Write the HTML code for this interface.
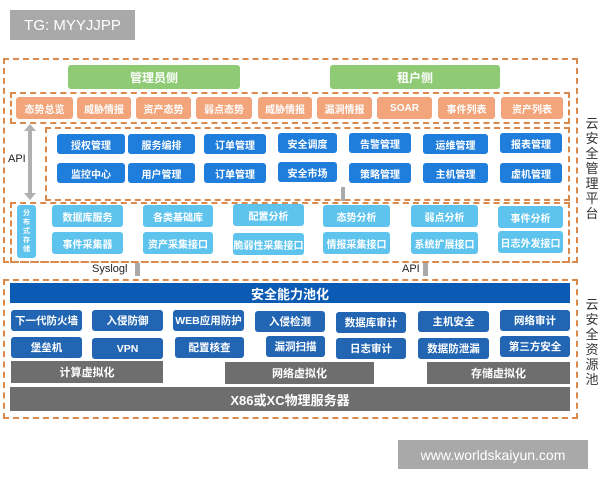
<!DOCTYPE html>
<html><head><meta charset="utf-8"><style>
*{margin:0;padding:0;box-sizing:border-box}
body{width:600px;height:480px;background:#fff;position:relative;overflow:hidden;font-family:"Liberation Sans","Noto Sans CJK SC",sans-serif}
div{position:absolute}
.d{border:2px dashed #dc8a4c}
.b{display:flex;align-items:center;justify-content:center;color:#fff;font-size:10px;font-weight:bold;border-radius:3px;white-space:nowrap}
.o{background:#f2a47a;top:97px;height:22px}
.m{background:#1f7ddb;height:20px}
.l{background:#5ec4ee;height:22px}
.k{background:#2266b3;height:21px;font-size:10.5px}
.g{background:#6e6e6e;border-radius:0;font-size:11px}
.v{font-size:13px;color:#333;width:14px;line-height:15px;text-align:center}
</style></head><body>
<div class="b" style="left:10px;top:10px;width:125px;height:30px;background:#a9a9a9;font-weight:normal;font-size:15px;border-radius:0">TG: MYYJJPP</div>
<div class="d" style="left:3px;top:58px;width:575px;height:205px"></div>
<div class="b" style="left:68px;top:65px;width:172px;height:24px;background:#8ecb74;font-size:12px">管理员侧</div>
<div class="b" style="left:330px;top:65px;width:170px;height:24px;background:#8ecb74;font-size:12px">租户侧</div>
<div class="d" style="left:10px;top:92px;width:560px;height:32px"></div>
<div class="b o" style="left:16px;width:57px">态势总览</div>
<div class="b o" style="left:77px;width:54px">威胁情报</div>
<div class="b o" style="left:136px;width:55px">资产态势</div>
<div class="b o" style="left:196px;width:56px">弱点态势</div>
<div class="b o" style="left:258px;width:54px">威胁情报</div>
<div class="b o" style="left:317px;width:55px">漏洞情报</div>
<div class="b o" style="left:377px;width:55px">SOAR</div>
<div class="b o" style="left:438px;width:57px">事件列表</div>
<div class="b o" style="left:501px;width:62px">资产列表</div>
<div class="d" style="left:45px;top:127px;width:525px;height:74px"></div>
<div class="b m" style="left:57px;top:134px;width:68px">授权管理</div>
<div class="b m" style="left:128px;top:134px;width:67px">服务编排</div>
<div class="b m" style="left:204px;top:134px;width:62px">订单管理</div>
<div class="b m" style="left:278px;top:133px;width:59px">安全调度</div>
<div class="b m" style="left:349px;top:133px;width:62px">告警管理</div>
<div class="b m" style="left:423px;top:134px;width:65px">运维管理</div>
<div class="b m" style="left:500px;top:133px;width:62px">报表管理</div>
<div class="b m" style="left:57px;top:163px;width:68px">监控中心</div>
<div class="b m" style="left:128px;top:163px;width:67px">用户管理</div>
<div class="b m" style="left:204px;top:163px;width:62px">订单管理</div>
<div class="b m" style="left:278px;top:162px;width:59px">安全市场</div>
<div class="b m" style="left:349px;top:163px;width:62px">策略管理</div>
<div class="b m" style="left:423px;top:163px;width:65px">主机管理</div>
<div class="b m" style="left:500px;top:163px;width:62px">虚机管理</div>
<div style="left:28px;top:130px;width:4px;height:64px;background:#b0b0b0"></div>
<div style="left:24px;top:124px;width:0;height:0;border:6px solid transparent;border-bottom:7px solid #b0b0b0;border-top:0"></div>
<div style="left:24px;top:193px;width:0;height:0;border:6px solid transparent;border-top:7px solid #b0b0b0;border-bottom:0"></div>
<div style="left:8px;top:153px;font-size:11px;color:#222">API</div>
<div style="left:341px;top:187px;width:4px;height:14px;background:#aaa"></div>
<div class="d" style="left:10px;top:202px;width:560px;height:61px"></div>
<div class="b" style="left:17px;top:205px;width:19px;height:53px;background:#5ec4ee;font-size:7px;line-height:9px;white-space:normal;text-align:center;padding:0 5px">分布式存储</div>
<div class="b l" style="left:52px;top:205px;width:71px">数据库服务</div>
<div class="b l" style="left:143px;top:205px;width:70px">各类基础库</div>
<div class="b l" style="left:233px;top:204px;width:71px">配置分析</div>
<div class="b l" style="left:323px;top:205px;width:67px">态势分析</div>
<div class="b l" style="left:411px;top:205px;width:67px">弱点分析</div>
<div class="b l" style="left:498px;top:206px;width:65px">事件分析</div>
<div class="b l" style="left:52px;top:232px;width:71px">事件采集器</div>
<div class="b l" style="left:143px;top:232px;width:70px">资产采集接口</div>
<div class="b l" style="left:233px;top:233px;width:71px">脆弱性采集接口</div>
<div class="b l" style="left:323px;top:232px;width:67px">情报采集接口</div>
<div class="b l" style="left:411px;top:232px;width:67px">系统扩展接口</div>
<div class="b l" style="left:498px;top:231px;width:65px">日志外发接口</div>
<div style="left:92px;top:263px;font-size:11px;color:#222">Syslogl</div>
<div style="left:135px;top:263px;width:5px;height:13px;background:#aaa"></div>
<div style="left:402px;top:263px;font-size:11px;color:#222">API</div>
<div style="left:423px;top:263px;width:5px;height:13px;background:#aaa"></div>
<div class="d" style="left:3px;top:279px;width:575px;height:140px"></div>
<div class="b" style="left:10px;top:283px;width:560px;height:20px;background:#0b5bb4;font-size:13px;border-radius:0">安全能力池化</div>
<div class="b k" style="left:11px;top:310px;width:71px">下一代防火墙</div>
<div class="b k" style="left:92px;top:310px;width:71px">入侵防御</div>
<div class="b k" style="left:173px;top:310px;width:71px">WEB应用防护</div>
<div class="b k" style="left:255px;top:311px;width:70px">入侵检测</div>
<div class="b k" style="left:336px;top:312px;width:70px">数据库审计</div>
<div class="b k" style="left:418px;top:311px;width:71px">主机安全</div>
<div class="b k" style="left:500px;top:310px;width:70px">网络审计</div>
<div class="b k" style="left:11px;top:337px;width:71px">堡垒机</div>
<div class="b k" style="left:92px;top:338px;width:71px">VPN</div>
<div class="b k" style="left:175px;top:337px;width:69px">配置核查</div>
<div class="b k" style="left:266px;top:336px;width:59px">漏洞扫描</div>
<div class="b k" style="left:336px;top:338px;width:70px">日志审计</div>
<div class="b k" style="left:418px;top:338px;width:71px">数据防泄漏</div>
<div class="b k" style="left:500px;top:336px;width:70px">第三方安全</div>
<div class="b g" style="left:11px;top:361px;width:152px;height:22px">计算虚拟化</div>
<div class="b g" style="left:225px;top:362px;width:149px;height:22px">网络虚拟化</div>
<div class="b g" style="left:427px;top:362px;width:143px;height:22px">存储虚拟化</div>
<div class="b g" style="left:10px;top:387px;width:560px;height:24px;font-size:13px">X86或XC物理服务器</div>
<div class="v" style="left:585px;top:116px">云安全管理平台</div>
<div class="v" style="left:585px;top:297px">云安全资源池</div>
<div class="b" style="left:398px;top:440px;width:190px;height:29px;background:#a9a9a9;font-weight:normal;font-size:14px;border-radius:0">www.worldskaiyun.com</div>
</body></html>
